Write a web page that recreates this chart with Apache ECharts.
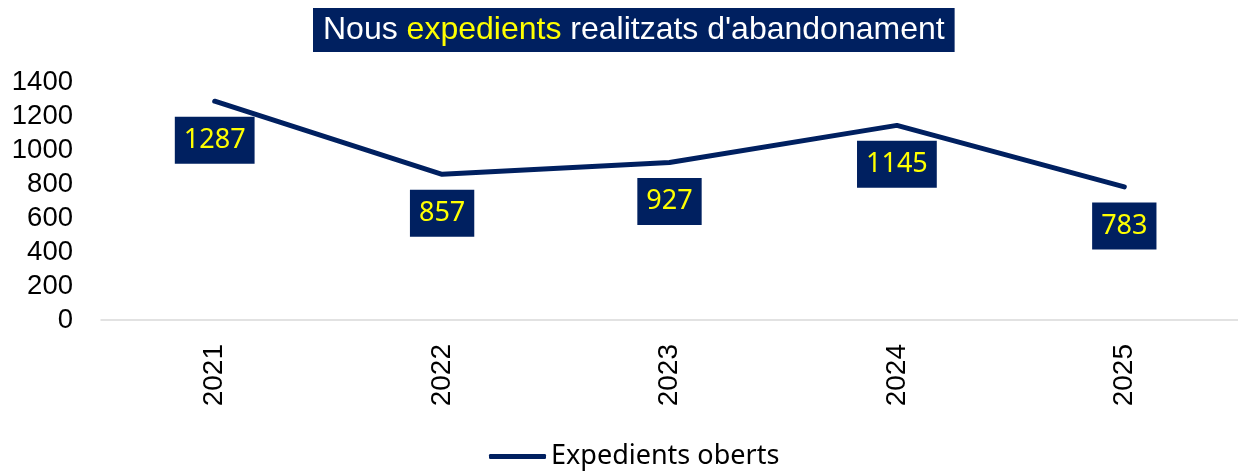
<!DOCTYPE html>
<html>
<head>
<meta charset="utf-8">
<style>
  html, body { margin: 0; padding: 0; background: #fff; }
  #chart { width: 1238px; height: 473px; }
</style>
<script src="https://cdn.jsdelivr.net/npm/echarts@6/dist/echarts.min.js"></script>
</head>
<body>
<div id="chart"></div>
<script>
// Yearly count of newly opened abandonment cases
const years = ['2021', '2022', '2023', '2024', '2025'];
const openedCases = [1287, 857, 927, 1145, 783];
const yTicks = [0, 200, 400, 600, 800, 1000, 1200, 1400];

const NAVY = '#002060';
const YELLOW = '#FFFF00';

const chart = echarts.init(document.getElementById('chart'), null, { renderer: 'canvas' });

chart.setOption({
  animation: false,
  backgroundColor: '#ffffff',
  title: {
    text: '{w|Nous }{y|expedients}{w| realitzats d\'abandonament}',
    left: 313,
    top: 8,
    backgroundColor: NAVY,
    padding: [6, 10, 6, 10],
    textStyle: {
      rich: {
        w: { color: '#ffffff', fontFamily: 'Liberation Sans', fontWeight: 'normal', fontSize: 32, lineHeight: 32 },
        y: { color: YELLOW, fontFamily: 'Liberation Sans', fontWeight: 'normal', fontSize: 32, lineHeight: 32 }
      }
    }
  },
  legend: {
    left: 489,
    top: 443,
    padding: 0,
    icon: 'roundRect',
    itemWidth: 57,
    itemHeight: 5,
    textStyle: { color: '#000', fontFamily: 'Noto Sans', fontSize: 27 },
    data: ['Expedients oberts']
  },
  grid: { left: 101, right: 0, top: 82, bottom: 153, containLabel: false },
  xAxis: {
    type: 'category',
    data: years,
    boundaryGap: true,
    axisLine: { show: true, lineStyle: { color: '#d9d9d9', width: 1.5 } },
    axisTick: { show: false },
    axisLabel: {
      rotate: 90,
      margin: 24,
      color: '#000',
      fontFamily: 'Liberation Sans',
      fontSize: 28
    }
  },
  yAxis: {
    type: 'value',
    min: yTicks[0],
    max: yTicks[yTicks.length - 1],
    interval: 200,
    splitLine: { show: false },
    axisLine: { show: false },
    axisTick: { show: false },
    axisLabel: {
      margin: 28,
      color: '#000',
      fontFamily: 'Liberation Sans',
      fontSize: 27.5,
      formatter: (v) => String(v)
    }
  },
  series: [{
    name: 'Expedients oberts',
    type: 'line',
    data: openedCases,
    symbol: 'circle',
    symbolSize: 1,
    showSymbol: true,
    itemStyle: { color: NAVY },
    lineStyle: { color: NAVY, width: 5, cap: 'round' },
    label: {
      show: true,
      position: 'bottom',
      distance: 15,
      color: YELLOW,
      backgroundColor: NAVY,
      fontFamily: 'Noto Sans',
      fontSize: 27,
      lineHeight: 27,
      padding: [10, 9, 10, 9]
    }
  }]
});
</script>
</body>
</html>
